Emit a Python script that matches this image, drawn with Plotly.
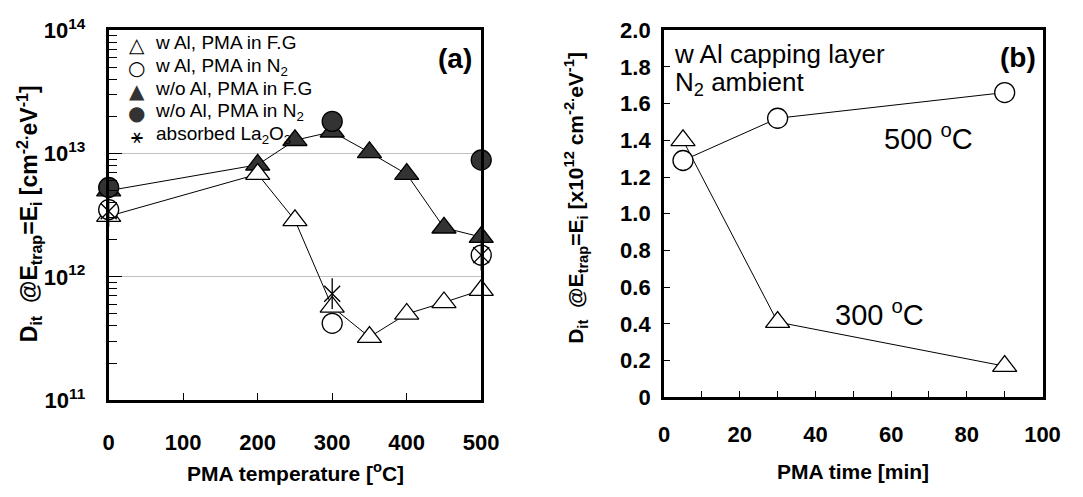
import plotly.graph_objects as go

# ---------------- data ----------------
# Panel (a): Dit vs PMA temperature
temp_fg = [0, 200, 250, 300, 350, 400, 450, 500]
dit_wal_fg = [3.1e12, 6.8e12, 2.87e12, 5.7e11, 3.25e11, 5.0e11, 6.2e11, 7.8e11]
dit_woal_fg = [5.0e12, 8.1e12, 1.28e13, 1.5e13, 1.02e13, 6.8e12, 2.5e12, 2.1e12]
temp_n2 = [0, 300, 500]
dit_wal_n2 = [3.5e12, 4.2e11, 1.5e12]
dit_woal_n2 = [5.3e12, 1.82e13, 8.85e12]
temp_abs = [0, 300, 500]
dit_abs = [3.4e12, 7.3e11, 1.5e12]

# Panel (b): Dit vs PMA time (x1e12)
time_min = [5, 30, 90]
dit_500 = [1.29, 1.52, 1.66]
dit_300 = [1.40, 0.41, 0.17]

series_names = ["w Al, PMA in F.G", "w Al, PMA in N<sub>2</sub>", "w/o Al, PMA in F.G",
                "w/o Al, PMA in N<sub>2</sub>", "absorbed La<sub>2</sub>O<sub>3</sub>"]

temp_ticks = [0, 100, 200, 300, 400, 500]
log_ticks = [1e11, 1e12, 1e13, 1e14]
log_ticktext = ["<b>10<sup>11</sup></b>", "<b>10<sup>12</sup></b>",
                "<b>10<sup>13</sup></b>", "<b>10<sup>14</sup></b>"]
time_ticks = [0, 20, 40, 60, 80, 100]
lin_ticks = [0, 0.2, 0.4, 0.6, 0.8, 1.0, 1.2, 1.4, 1.6, 1.8, 2.0]
lin_ticktext = ["0", "0.2", "0.4", "0.6", "0.8", "1.0", "1.2", "1.4", "1.6", "1.8", "2.0"]

FONT = "Liberation Sans, Arial, sans-serif"
W, H = 1083, 497
FILL = "#333333"

fig = go.Figure()

# connecting lines (below markers)
line = dict(color="black", width=1)
fig.add_trace(go.Scatter(x=temp_fg, y=dit_woal_fg, mode="lines", line=line,
                         xaxis="x", yaxis="y", cliponaxis=False))
fig.add_trace(go.Scatter(x=temp_fg, y=dit_wal_fg, mode="lines", line=line,
                         xaxis="x", yaxis="y", cliponaxis=False))
fig.add_trace(go.Scatter(x=time_min, y=dit_500, mode="lines", line=line,
                         xaxis="x2", yaxis="y2", cliponaxis=False))
fig.add_trace(go.Scatter(x=time_min, y=dit_300, mode="lines", line=line,
                         xaxis="x2", yaxis="y2", cliponaxis=False))

mk_line = dict(color="black", width=1.3)
fig.add_trace(go.Scatter(x=temp_fg, y=dit_woal_fg, mode="markers", name=series_names[2],
                         marker=dict(symbol="triangle-up", size=21, color=FILL, line=mk_line),
                         xaxis="x", yaxis="y", cliponaxis=False))
fig.add_trace(go.Scatter(x=temp_fg, y=dit_wal_fg, mode="markers", name=series_names[0],
                         marker=dict(symbol="triangle-up", size=21, color="white", line=mk_line),
                         xaxis="x", yaxis="y", cliponaxis=False))
fig.add_trace(go.Scatter(x=temp_n2, y=dit_wal_n2, mode="markers", name=series_names[1],
                         marker=dict(symbol="circle", size=20, color="white", line=mk_line),
                         xaxis="x", yaxis="y", cliponaxis=False))
fig.add_trace(go.Scatter(x=temp_n2, y=dit_woal_n2, mode="markers", name=series_names[3],
                         marker=dict(symbol="circle", size=20, color=FILL, line=mk_line),
                         xaxis="x", yaxis="y", cliponaxis=False))
fig.add_trace(go.Scatter(x=temp_abs, y=dit_abs, mode="markers", name=series_names[4],
                         marker=dict(symbol="x-thin-open", size=16, color="black",
                                     line=dict(color="black", width=1.3)),
                         xaxis="x", yaxis="y", cliponaxis=False))
fig.add_trace(go.Scatter(x=temp_abs, y=dit_abs, mode="markers", name=series_names[4],
                         marker=dict(symbol="line-ns-open", size=22, color="black",
                                     line=dict(color="black", width=1.3)),
                         xaxis="x", yaxis="y", cliponaxis=False))

# panel (b) markers
fig.add_trace(go.Scatter(x=time_min, y=dit_500, mode="markers", name="500 °C",
                         marker=dict(symbol="circle", size=20, color="white", line=mk_line),
                         xaxis="x2", yaxis="y2", cliponaxis=False))
fig.add_trace(go.Scatter(x=time_min, y=dit_300, mode="markers", name="300 °C",
                         marker=dict(symbol="triangle-up", size=21, color="white", line=mk_line),
                         xaxis="x2", yaxis="y2", cliponaxis=False))

axis_common = dict(showline=True, linecolor="black", linewidth=3, mirror=True,
                   ticks="inside", tickcolor="black", tickwidth=1.3,
                   tickfont=dict(family=FONT, size=22, color="black"),
                   zeroline=False)

fig.update_layout(
    width=W, height=H,
    margin=dict(l=0, r=0, t=0, b=0),
    paper_bgcolor="white", plot_bgcolor="white",
    font=dict(family=FONT, color="black"),
    showlegend=False,
    xaxis=dict(domain=[105 / W, 486 / W], range=[0, 500], tickvals=temp_ticks,
               ticktext=["<b>%d</b>" % v for v in temp_ticks],
               ticklen=7, showgrid=False, anchor="y", ticklabelstandoff=20,
               **axis_common),
    yaxis=dict(domain=[1 - 408 / H, 1 - 15 / H], type="log", range=[11, 14],
               tickvals=log_ticks, ticktext=log_ticktext, ticklen=13,
               showgrid=True, gridcolor="#c0c0c0", gridwidth=1,
               minor=dict(ticks="inside", ticklen=8, tickcolor="black", tickwidth=1.3,
                          dtick="D1", showgrid=False),
               anchor="x", ticklabelstandoff=16,
               **axis_common),
    xaxis2=dict(domain=[673 / W, 1060 / W], range=[0, 100],
                tickvals=time_ticks, ticktext=["<b>%d</b>" % v for v in time_ticks],
                ticklen=6, showgrid=False, anchor="y2", ticklabelstandoff=15,
                minor=dict(ticks="inside", ticklen=6, tickcolor="black", tickwidth=1.3, dtick=10),
                **axis_common),
    yaxis2=dict(domain=[1 - 405 / H, 1 - 15 / H], range=[0, 2],
                tickvals=lin_ticks, ticktext=["<b>%s</b>" % t for t in lin_ticktext],
                ticklen=6, showgrid=False, anchor="x2", ticklabelstandoff=6,
                **axis_common),
)

# legend of panel (a): a column of glyphs and a column of labels
leg_glyphs = ["<span style='font-size:20px'>△</span>",
              "<span style='font-size:20px'>○</span>",
              "<span style='font-size:20px;color:#333333'>▲</span>",
              "<span style='font-size:20px;color:#333333'>●</span>",
              "<span style='font-size:20px'>⚹</span>"]
leg_labels = ["<span style='font-size:19px'>%s</span>" % n for n in series_names]

annos = [
    dict(text="<br>".join(leg_glyphs), x=133 / W, y=1 - 16 / H, xanchor="center", yanchor="top",
         align="center", font=dict(size=17.5, family="DejaVu Sans")),
    dict(text="<br>".join(leg_labels), x=150 / W, y=1 - 15 / H, xanchor="left", yanchor="top",
         align="left", font=dict(size=17.5)),
    # axis titles
    dict(text="<b>PMA temperature [<sup>o</sup>C]</b>", x=296 / W, y=1 - 484 / H,
         xanchor="center", yanchor="middle", font=dict(size=21)),
    dict(text="<b>PMA time [min]</b>", x=866 / W, y=1 - 484 / H,
         xanchor="center", yanchor="middle", font=dict(size=21)),
    dict(text="<b>D<sub>it</sub>  @E<sub>trap</sub>=E<sub>i</sub> [cm<sup>-2.</sup>eV<sup>-1</sup>]</b>",
         x=23 / W, y=1 - 210 / H, xanchor="center", yanchor="middle", textangle=-90,
         font=dict(size=23)),
    dict(text="<b>D<sub>it</sub>  @E<sub>trap</sub>=E<sub>i</sub> [x10<sup>12</sup> cm<sup>-2.</sup>eV<sup>-1</sup>]</b>",
         x=583 / W, y=1 - 193 / H, xanchor="center", yanchor="middle", textangle=-90,
         font=dict(size=21)),
    # panel labels / notes
    dict(text="<b>(a)</b>", x=479 / W, y=1 - 45 / H, xanchor="right", yanchor="middle",
         font=dict(size=28)),
    dict(text="<b>(b)</b>", x=1055 / W, y=1 - 44 / H, xanchor="right", yanchor="middle",
         font=dict(size=28)),
    dict(text="<span style='font-size:26px'>w Al capping layer</span><br>"
              "<span style='font-size:26px'>N<sub>2</sub> ambient</span>",
         x=681 / W, y=1 - 22 / H, xanchor="left", yanchor="top", align="left",
         font=dict(size=21.5)),
    dict(text="500 <sup>o</sup>C", x=896 / W, y=1 - 128 / H, xanchor="left", yanchor="middle",
         font=dict(size=29)),
    dict(text="300 <sup>o</sup>C", x=846 / W, y=1 - 315 / H, xanchor="left", yanchor="middle",
         font=dict(size=29)),
]
for a in annos:
    a.update(xref="paper", yref="paper", showarrow=False)
    a["font"].setdefault("family", FONT)
    a["font"].update(color="black")
fig.update_layout(annotations=annos)

fig.write_html("out.html")
